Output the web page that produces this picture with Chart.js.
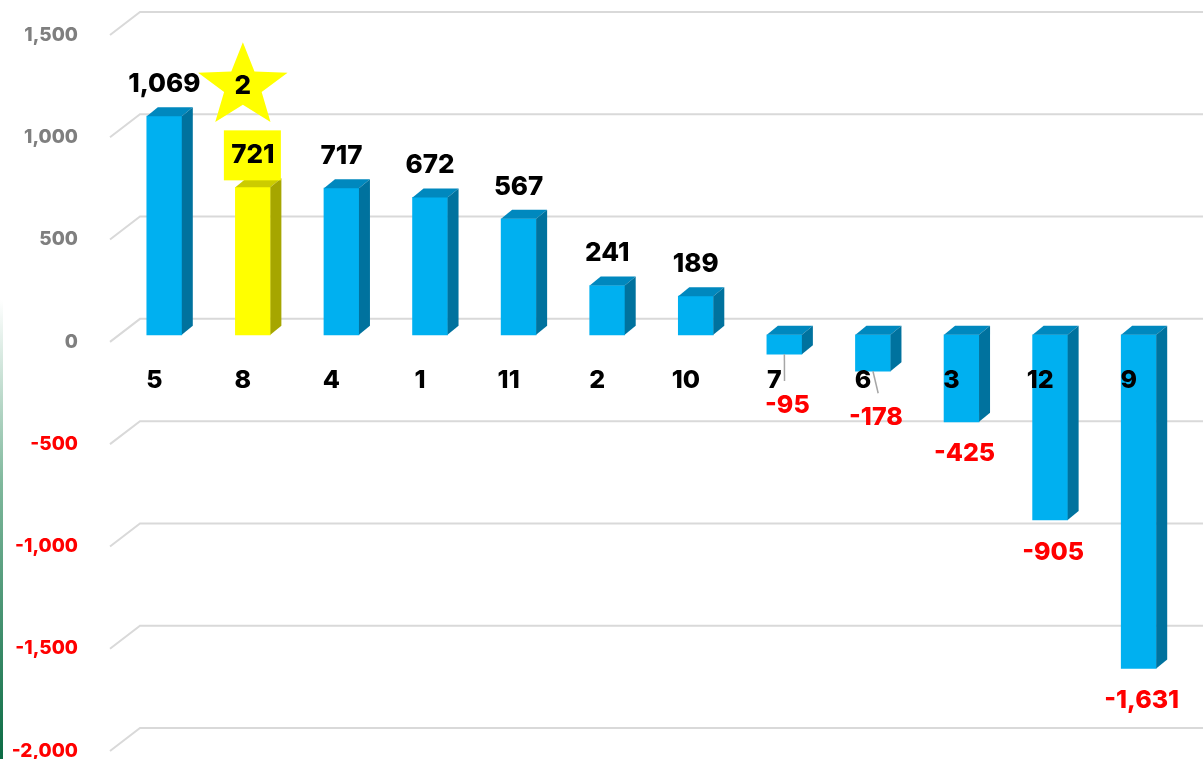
<!DOCTYPE html>
<html lang="en">
<head>
    <meta charset="UTF-8">
    <title>Index</title>
    <style>
        html, body { margin: 0; padding: 0; background: #fff; overflow: hidden; }
        #wrap { position: relative; width: 1203px; height: 759px; }
        #strip { position: absolute; left: 0; top: 300px; width: 3px; height: 459px;
                 background: linear-gradient(#ffffff, #7fb89c 40%, #0b6b44); }
    </style>
</head>
<body>
<div id="wrap">
    <div id="strip"></div>
    <canvas id="chart" width="1203" height="759"></canvas>
</div>

<script src="https://cdn.jsdelivr.net/npm/chart.js@4.4.1/dist/chart.umd.min.js"></script>
<script>
    // data
    const categories = ["5", "8", "4", "1", "11", "2", "10", "7", "6", "3", "12", "9"];
    const values = [1069, 721, 717, 672, 567, 241, 189, -95, -178, -425, -905, -1631];
    const yTicks = [1500, 1000, 500, 0, -500, -1000, -1500, -2000];
    const highlightIndex = 1;
    const starText = "2";

    const FONT = "Inter, 'Open Sans', sans-serif";
    const blue = { front: "#00b0f0", top: "#0088be", side: "#00729e" };
    const yellow = { front: "#ffff00", top: "#cccc00", side: "#a6a600" };
    const DX = 11, DY = -9;

    function fmt(v) {
        return v.toLocaleString("en-US");
    }

    // perspective grid lines
    const gridPlugin = {
        id: "grid3d",
        beforeDatasetsDraw(chart) {
            const ctx = chart.ctx;
            const y = chart.scales.y;
            ctx.save();
            ctx.strokeStyle = "#d9d9d9";
            ctx.lineWidth = 2;
            yTicks.forEach(function (v) {
                const p = y.getPixelForValue(v);
                ctx.beginPath();
                ctx.moveTo(110, p + 7);
                ctx.lineTo(140, p - 16);
                ctx.lineTo(chart.width, p - 16);
                ctx.stroke();
            });
            ctx.restore();
        }
    };

    // top + side faces, category labels, value labels, star
    const barPlugin = {
        id: "bars3d",
        afterDatasetsDraw(chart) {
            const ctx = chart.ctx;
            const meta = chart.getDatasetMeta(0);
            ctx.save();
            meta.data.forEach(function (bar, i) {
                const col = i === highlightIndex ? yellow : blue;
                const half = bar.width / 2;
                const l = bar.x - half, r = bar.x + half;
                const top = Math.min(bar.y, bar.base), bot = Math.max(bar.y, bar.base);

                ctx.fillStyle = col.top;
                ctx.beginPath();
                ctx.moveTo(l, top);
                ctx.lineTo(r, top);
                ctx.lineTo(r + DX, top + DY);
                ctx.lineTo(l + DX, top + DY);
                ctx.closePath();
                ctx.fill();

                ctx.fillStyle = col.side;
                ctx.beginPath();
                ctx.moveTo(r, top);
                ctx.lineTo(r + DX, top + DY);
                ctx.lineTo(r + DX, bot + DY);
                ctx.lineTo(r, bot);
                ctx.closePath();
                ctx.fill();
            });
            ctx.restore();
        },
        afterDraw(chart) {
            const ctx = chart.ctx;
            const meta = chart.getDatasetMeta(0);
            const xs = chart.scales.x;
            const zero = chart.scales.y.getPixelForValue(0);
            ctx.save();
            ctx.textAlign = "center";
            ctx.textBaseline = "middle";

            // category labels under the zero line
            ctx.fillStyle = "#000";
            ctx.font = "800 25px " + FONT;
            categories.forEach(function (c, i) {
                ctx.fillText(c, xs.getPixelForValue(i) - 10, zero + 46);
            });

            meta.data.forEach(function (bar, i) {
                const v = values[i];
                if (v >= 0) {
                    const ly = bar.y - 32;
                    if (i === highlightIndex) {
                        ctx.fillStyle = "#ffff00";
                        ctx.fillRect(bar.x - 29, ly - 25, 57, 50);
                        drawStar(ctx, bar.x - 10, ly - 69, 47, 40);
                        ctx.fillStyle = "#000";
                        ctx.font = "800 26px " + FONT;
                        ctx.fillText(starText, bar.x - 10, ly - 69);
                    }
                    ctx.fillStyle = "#000";
                    ctx.font = "800 26px " + FONT;
                    ctx.fillText(fmt(v), bar.x, ly);
                } else {
                    const bottom = bar.y;
                    let ly = bottom + 32;
                    let pushed = false;
                    if (ly < 420) {
                        ly = Math.max(ly + 14, 405);
                        pushed = true;
                    }
                    if (pushed) {
                        ctx.strokeStyle = "#a6a6a6";
                        ctx.lineWidth = 1.5;
                        ctx.beginPath();
                        ctx.moveTo(bar.x, bottom);
                        ctx.lineTo(bar.x + (bottom - bar.base - 19) * 0.3, ly - 24);
                        ctx.stroke();
                    }
                    ctx.fillStyle = "#ff0000";
                    ctx.font = "800 25px " + FONT;
                    ctx.fillText(fmt(v), bar.x + 3, ly);
                }
            });
            ctx.restore();
        }
    };

    function drawStar(ctx, cx, cy, rx, ry) {
        ctx.fillStyle = "#ffff00";
        ctx.beginPath();
        for (let k = 0; k < 10; k++) {
            const a = -Math.PI / 2 + k * Math.PI / 5;
            const f = k % 2 === 0 ? 1 : 0.42;
            const px = cx + Math.cos(a) * rx * f;
            const py = cy + Math.sin(a) * ry * f * 1.1;
            if (k === 0) ctx.moveTo(px, py); else ctx.lineTo(px, py);
        }
        ctx.closePath();
        ctx.fill();
    }

    const ctx = document.getElementById("chart").getContext("2d");
    const myChart = new Chart(ctx, {
        type: "bar",
        data: {
            labels: categories,
            datasets: [{
                data: values,
                backgroundColor: values.map((v, i) => i === highlightIndex ? yellow.front : blue.front),
                borderWidth: 0,
                barThickness: 35
            }]
        },
        plugins: [gridPlugin, barPlugin],
        options: {
            responsive: false,
            animation: false,
            layout: { padding: { top: 28, bottom: 15, left: 0, right: 20 } },
            plugins: { legend: { display: false }, tooltip: { enabled: false } },
            scales: {
                x: {
                    display: false
                },
                y: {
                    min: -2000,
                    max: 1500,
                    afterFit(scale) {
                        scale.width = 120;
                        scale.paddingTop = 0;
                        scale.paddingBottom = 0;
                    },
                    grid: { display: false, drawTicks: false },
                    border: { display: false },
                    ticks: {
                        stepSize: 500,
                        padding: 42,
                        labelOffset: 7,
                        font: { family: FONT, size: 19, weight: "800" },
                        color: (c) => c.tick && c.tick.value < 0 ? "#ff0000" : "#7f7f7f",
                        callback: (v) => fmt(v)
                    }
                }
            }
        }
    });
</script>
</body>
</html>
